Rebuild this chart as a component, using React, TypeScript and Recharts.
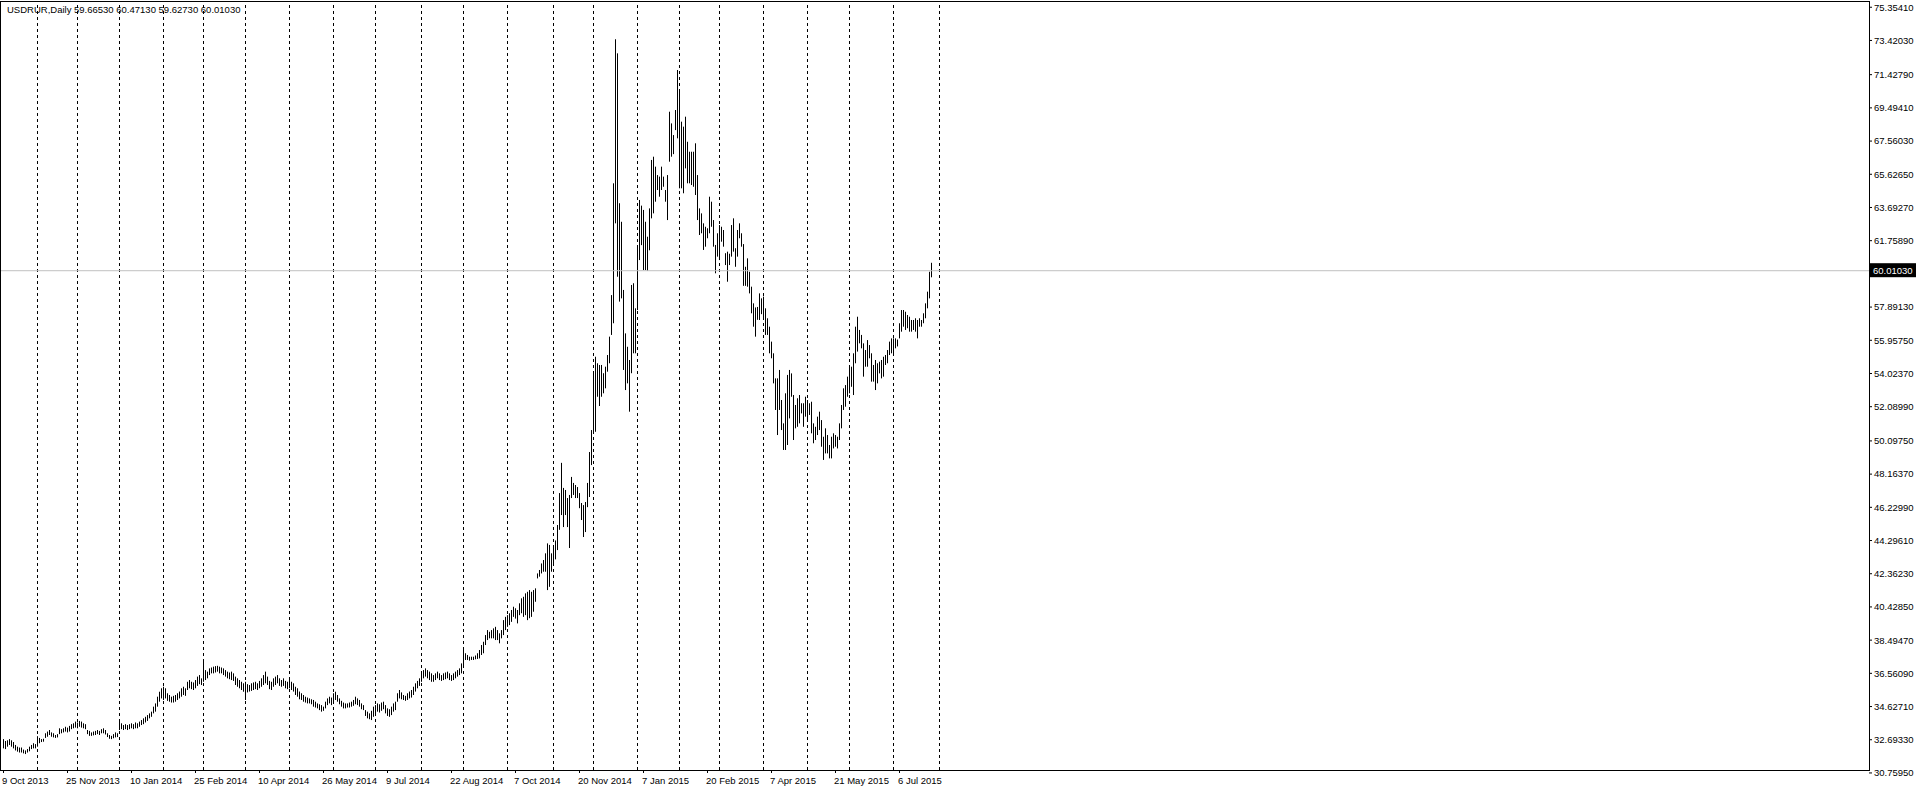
import React from 'react';
import { ComposedChart, Bar, XAxis, YAxis, ReferenceLine } from 'recharts';

// USDRUR daily, one high/low pair per bar (9 Oct 2013 .. late Jul 2015), month by month
const highs = [
  // Oct 2013
  32.73, 32.62, 32.66, 32.73, 32.66, 32.56, 32.39, 32.29, 32.24, 32.24, 32.12, 32.07, 32.15, 32.29, 32.39, 32.49, 32.44,
  // Nov 2013
  32.90, 32.80, 32.73, 32.75, 33.07, 33.17, 33.26, 33.12, 33.07, 32.97, 33.02, 33.36, 33.31, 33.36, 33.45, 33.40, 33.50, 33.60, 33.65, 33.75,
  // Dec 2013
  33.70, 33.79, 33.75, 33.65, 33.60, 33.26, 33.21, 33.12, 33.17, 33.21, 33.26, 33.21, 33.31, 33.36, 33.26, 33.07, 32.97, 32.92, 33.02, 33.12, 33.07,
  // Jan 2014
  33.84, 33.65, 33.55, 33.60, 33.55, 33.60, 33.65, 33.60, 33.70, 33.65, 33.75, 33.84, 33.94, 34.03, 34.13, 34.23, 34.33, 34.62, 34.81, 35.20, 35.49, 35.69,
  // Feb 2014
  35.78, 35.69, 35.40, 35.30, 35.20, 35.25, 35.30, 35.40, 35.50, 35.69, 35.78, 35.69, 36.07, 36.17, 36.07, 36.03, 36.17, 36.37, 36.46, 36.27,
  // Mar 2014
  37.24, 36.75, 36.66, 36.85, 36.90, 36.95, 36.98, 37.00, 36.95, 36.90, 36.85, 36.75, 36.66, 36.61, 36.66, 36.56, 36.37, 36.27, 36.17, 36.07, 35.98,
  // Apr 2014
  36.07, 35.93, 35.88, 35.98, 36.03, 36.07, 35.98, 36.12, 36.27, 36.46, 36.66, 36.37, 36.12, 36.07, 36.27, 36.37, 36.46, 36.27, 36.17, 36.27, 36.12, 36.07,
  // May 2014
  36.17, 36.07, 35.98, 35.78, 35.69, 35.50, 35.40, 35.30, 35.20, 35.15, 35.10, 35.05, 35.01, 34.91, 34.81, 34.76, 34.71, 34.62, 34.91, 35.10, 35.20, 35.15,
  // Jun 2014
  35.40, 35.49, 35.30, 35.10, 34.96, 34.86, 34.81, 34.81, 34.86, 34.91, 35.01, 35.20, 35.10, 35.01, 34.81, 34.71, 34.42, 34.33, 34.23, 34.38, 34.62,
  // Jul 2014
  34.71, 34.81, 34.76, 34.86, 34.91, 34.71, 34.52, 34.47, 34.62, 34.81, 34.91, 35.40, 35.59, 35.45, 35.30, 35.25, 35.40, 35.50, 35.59, 35.78, 35.98, 36.12, 36.27,
  // Aug 2014
  36.56, 36.75, 36.85, 36.75, 36.66, 36.56, 36.46, 36.56, 36.66, 36.56, 36.46, 36.56, 36.61, 36.66, 36.56, 36.46, 36.56, 36.66, 36.75, 36.85, 37.14,
  // Sep 2014
  37.92, 37.73, 37.63, 37.53, 37.53, 37.53, 37.60, 37.73, 37.92, 38.21, 38.40, 38.79, 39.08, 38.98, 39.08, 39.18, 39.27, 39.08, 38.89, 39.08, 39.66, 39.85,
  // Oct 2014
  39.95, 40.06, 40.25, 40.44, 40.35, 40.25, 40.64, 40.93, 41.02, 41.22, 41.31, 41.41, 41.31, 41.41, 41.51, 42.38, 42.58, 42.96, 43.16, 43.55, 44.13, 44.04, 43.55,
  // Nov 2014
  43.94, 44.30, 45.20, 47.06, 48.82, 47.36, 47.24, 46.77, 46.95, 48.00, 47.65, 47.53, 47.41, 47.06, 46.48, 46.36, 46.54, 47.65, 49.45, 50.73,
  // Dec 2014
  54.04, 55.00, 54.62, 54.52, 54.52, 54.04, 54.42, 55.10, 56.17, 58.59, 65.10, 73.49, 72.67, 63.94, 62.86, 58.89, 56.36, 55.58, 54.81, 59.18, 59.28, 57.82,
  // Jan 2015
  61.41, 64.13, 63.80, 63.55, 62.86, 61.99, 63.64, 66.46, 66.65, 66.07, 65.58, 65.49, 66.07, 65.49, 64.71, 65.58, 69.27, 68.59, 67.91, 69.37, 71.70,
  // Feb 2015
  70.44, 68.69, 68.40, 68.98, 67.52, 66.94, 66.94, 66.94, 67.43, 65.58, 63.64, 63.35, 62.77, 62.57, 62.48, 64.32, 64.03, 62.96, 61.51, 62.19,
  // Mar 2015
  62.67, 62.57, 62.38, 61.03, 61.12, 61.00, 62.67, 63.06, 61.32, 62.38, 62.77, 62.19, 61.56, 60.24, 60.73, 59.95, 59.08, 58.11, 57.87, 57.90, 58.69, 58.40,
  // Apr 2015
  58.50, 57.82, 57.24, 56.75, 55.88, 55.20, 53.74, 53.74, 54.23, 52.48, 51.12, 52.87, 53.94, 54.23, 54.03, 52.77, 52.19, 52.58, 52.77, 52.29, 52.29, 52.67,
  // May 2015
  52.48, 52.29, 52.38, 51.12, 50.92, 51.51, 51.80, 51.31, 50.34, 50.83, 50.44, 49.86, 50.34, 50.54, 50.44, 50.34, 51.12, 52.19, 53.16, 53.35, 53.84,
  // Jun 2015
  54.42, 54.42, 55.20, 56.75, 57.33, 56.56, 56.27, 55.78, 55.39, 55.97, 55.68, 55.20, 54.52, 54.81, 54.62, 54.71, 54.81, 55.00, 55.10, 55.39, 55.88, 56.07,
  // Jul 2015
  56.07, 56.07, 56.00, 56.95, 57.72, 57.72, 57.62, 57.43, 57.33, 57.14, 57.14, 57.24, 57.14, 57.24, 57.14, 57.53, 58.11, 58.79, 59.95, 60.4713,
];

const lows = [
  // Oct 2013
  32.19, 32.15, 32.29, 32.39, 32.29, 32.19, 32.07, 32.00, 31.95, 31.95, 31.90, 31.86, 31.95, 32.02, 32.15, 32.19, 32.19,
  // Nov 2013
  32.29, 32.49, 32.56, 32.58, 32.80, 32.87, 32.97, 32.87, 32.83, 32.80, 32.83, 33.02, 33.07, 33.12, 33.17, 33.12, 33.17, 33.31, 33.36, 33.40,
  // Dec 2013
  33.36, 33.45, 33.40, 33.36, 33.31, 33.02, 32.92, 32.92, 32.95, 32.97, 33.02, 32.97, 33.07, 33.07, 33.00, 32.85, 32.75, 32.73, 32.78, 32.83, 32.85,
  // Jan 2014
  33.26, 33.31, 33.26, 33.31, 33.26, 33.31, 33.36, 33.31, 33.36, 33.36, 33.45, 33.55, 33.60, 33.70, 33.79, 33.94, 34.03, 34.23, 34.33, 34.62, 34.91, 35.10,
  // Feb 2014
  35.01, 35.10, 34.96, 34.91, 34.86, 34.86, 34.91, 35.01, 35.10, 35.20, 35.30, 35.25, 35.59, 35.69, 35.64, 35.59, 35.69, 35.83, 35.93, 35.88,
  // Mar 2014
  36.07, 36.17, 36.27, 36.46, 36.56, 36.56, 36.61, 36.66, 36.56, 36.56, 36.46, 36.37, 36.27, 36.22, 36.17, 36.12, 35.88, 35.78, 35.69, 35.59, 35.49,
  // Apr 2014
  35.01, 35.45, 35.50, 35.54, 35.59, 35.64, 35.59, 35.69, 35.78, 35.88, 35.98, 35.88, 35.64, 35.59, 35.78, 35.88, 35.98, 35.83, 35.78, 35.83, 35.69, 35.64,
  // May 2014
  35.69, 35.59, 35.50, 35.30, 35.20, 35.05, 35.01, 34.91, 34.86, 34.81, 34.81, 34.76, 34.62, 34.57, 34.52, 34.42, 34.33, 34.38, 34.52, 34.71, 34.81, 34.71,
  // Jun 2014
  34.91, 35.01, 34.91, 34.76, 34.62, 34.52, 34.52, 34.57, 34.57, 34.62, 34.67, 34.76, 34.71, 34.62, 34.47, 34.42, 34.08, 33.94, 33.89, 33.84, 34.03,
  // Jul 2014
  34.23, 34.33, 34.28, 34.38, 34.47, 34.23, 34.08, 34.03, 34.13, 34.33, 34.42, 34.91, 35.10, 35.05, 35.01, 34.96, 35.01, 35.10, 35.15, 35.30, 35.50, 35.69, 35.83,
  // Aug 2014
  36.07, 36.27, 36.37, 36.27, 36.17, 36.07, 36.07, 36.17, 36.27, 36.17, 36.12, 36.17, 36.22, 36.27, 36.17, 36.12, 36.17, 36.27, 36.37, 36.46, 36.56,
  // Sep 2014
  36.95, 37.34, 37.34, 37.30, 37.34, 37.34, 37.38, 37.40, 37.43, 37.63, 37.73, 38.21, 38.50, 38.60, 38.60, 38.60, 38.50, 38.50, 38.31, 38.60, 38.79, 39.08,
  // Oct 2014
  39.27, 39.37, 39.56, 39.85, 39.75, 39.47, 39.95, 40.06, 39.85, 39.95, 39.66, 39.77, 39.85, 40.15, 40.73, 42.09, 42.19, 42.38, 42.48, 42.48, 41.41, 41.60, 42.48,
  // Nov 2014
  42.97, 43.20, 43.74, 44.92, 45.78, 45.08, 45.78, 45.08, 43.86, 46.77, 46.95, 46.77, 46.77, 46.18, 45.49, 44.50, 44.79, 46.24, 46.83, 48.69,
  // Dec 2014
  50.54, 50.63, 52.67, 52.13, 52.67, 52.87, 53.16, 54.13, 54.62, 56.27, 56.95, 62.77, 59.66, 58.21, 58.40, 54.23, 53.06, 53.45, 51.80, 54.04, 55.20, 55.20,
  // Jan 2015
  57.72, 60.63, 61.50, 60.05, 60.05, 60.00, 61.20, 63.06, 63.35, 64.03, 64.71, 64.32, 64.71, 64.90, 64.03, 62.96, 66.36, 66.65, 66.80, 68.20, 67.72,
  // Feb 2015
  64.81, 64.81, 64.52, 65.97, 65.10, 65.10, 65.00, 64.90, 64.42, 62.96, 62.09, 62.19, 61.22, 61.41, 61.90, 62.19, 62.57, 61.41, 59.86, 60.83,
  // Mar 2015
  60.63, 61.70, 61.41, 60.34, 59.37, 60.34, 60.83, 61.12, 60.24, 60.83, 61.90, 61.41, 59.13, 59.13, 59.08, 58.69, 57.53, 56.75, 56.17, 57.15, 57.14, 57.48,
  // Apr 2015
  57.24, 56.27, 56.27, 55.20, 54.91, 53.45, 51.90, 50.44, 51.90, 50.73, 49.57, 49.57, 49.86, 51.41, 52.67, 50.15, 50.83, 50.92, 51.12, 51.70, 50.92, 51.51,
  // May 2015
  51.31, 51.61, 50.54, 49.96, 50.15, 50.44, 50.73, 49.76, 48.99, 49.37, 49.37, 49.08, 49.08, 49.66, 49.76, 49.66, 50.15, 50.83, 51.90, 52.09, 52.67,
  // Jun 2015
  52.87, 53.25, 52.77, 54.62, 55.30, 55.78, 55.49, 53.84, 54.42, 54.42, 54.91, 53.55, 53.55, 53.06, 53.45, 54.03, 53.74, 53.84, 54.52, 54.62, 55.10, 55.20,
  // Jul 2015
  55.10, 55.49, 55.60, 56.07, 56.46, 56.75, 56.56, 56.66, 56.46, 56.46, 56.56, 56.46, 56.07, 56.75, 56.75, 56.95, 57.24, 57.82, 58.40, 59.6273,
];

// bar index of the first bar of each month (period separators)
const monthStarts = [17, 37, 58, 80, 100, 121, 143, 165, 186, 209, 230, 252, 275, 295, 317, 338, 358, 380, 402, 423, 445, 468];

const dateTicks = [0, 32, 64, 96, 128, 160, 192, 224, 256, 288, 320, 352, 384, 416, 448];
const dateLabels = [
  '9 Oct 2013', '25 Nov 2013', '10 Jan 2014', '25 Feb 2014', '10 Apr 2014', '26 May 2014', '9 Jul 2014', '22 Aug 2014',
  '7 Oct 2014', '20 Nov 2014', '7 Jan 2015', '20 Feb 2015', '7 Apr 2015', '21 May 2015', '6 Jul 2015',
];

const priceTicks = [
  75.3541, 73.4203, 71.4279, 69.4941, 67.5603, 65.6265, 63.6927, 61.7589, 57.8913, 55.9575, 54.0237, 52.0899,
  50.0975, 48.1637, 46.2299, 44.2961, 42.3623, 40.4285, 38.4947, 36.5609, 34.6271, 32.6933, 30.7595,
];

const lastPrice = 60.0103;
const headerText = 'USDRUR,Daily 59.66530 60.47130 59.62730 60.01030';

const data = highs.map((h, i) => ({ i, range: [lows[i], h] }));

const FONT = '"Liberation Sans", Arial, sans-serif';
const W = 1916;
const H = 789;
const PLOT_RIGHT = 1869;
const PLOT_BOTTOM = 770;

const HLBar = (props: any) => {
  const { x, y, width, height } = props;
  if (x == null || y == null) return null;
  return <rect x={Math.floor(x + width / 2)} y={y} width={1} height={Math.max(height, 1)} fill="#000" />;
};

const DateTick = (props: any) => {
  const { x, payload } = props;
  const k = dateTicks.indexOf(payload.value);
  return (
    <text x={x - 1.5} y={784} textAnchor="start" fontSize={9.5} fontFamily={FONT} fill="#000">
      {dateLabels[k]}
    </text>
  );
};

const PriceTag = (props: any) => {
  const vb = props.viewBox || {};
  const y = vb.y;
  const x = (vb.x || 0) + (vb.width || 0) + 1;
  return (
    <g>
      <rect x={x} y={y - 7.5} width={W - x} height={14} fill="#000" />
      <text x={x + 3} y={y + 3.5} fontSize={9.5} fontFamily={FONT} fill="#fff">
        {lastPrice.toFixed(5)}
      </text>
    </g>
  );
};

const line = (left: number, top: number, width: number, height: number) => (
  <div style={{ position: 'absolute', left, top, width, height, background: '#000' }} />
);

export default function App() {
  return (
    <div style={{ position: 'absolute', left: 0, top: 0, width: W, height: H, background: '#fff', overflow: 'hidden' }}>
      <ComposedChart
        width={W}
        height={H}
        data={data}
        margin={{ top: 1, right: 0, bottom: 0, left: 0 }}
      >
        <XAxis
          dataKey="i"
          type="number"
          domain={[-1.75, 932.75]}
          allowDataOverflow
          ticks={dateTicks}
          interval={0}
          height={19}
          axisLine={false}
          tickSize={3}
          tickLine={{ stroke: '#000' }}
          tick={<DateTick />}
        />
        <YAxis
          orientation="right"
          type="number"
          width={47}
          domain={[30.931, 75.718]}
          allowDataOverflow
          ticks={priceTicks}
          interval={0}
          axisLine={false}
          tickSize={3}
          tickMargin={2}
          tickLine={{ stroke: '#000' }}
          tick={{ fontSize: 9.5, fontFamily: FONT, fill: '#000' }}
          tickFormatter={(v: number) => v.toFixed(5)}
        />
        {monthStarts.map((m) => (
          <ReferenceLine key={m} x={m} stroke="#000" strokeDasharray="3 3" ifOverflow="visible" />
        ))}
        <ReferenceLine y={lastPrice} stroke="#c0c0c0" label={<PriceTag />} />
        <Bar dataKey="range" barSize={1} isAnimationActive={false} shape={<HLBar />} />
      </ComposedChart>
      {line(0, 1, PLOT_RIGHT + 1, 1)}
      {line(0, PLOT_BOTTOM, PLOT_RIGHT + 1, 1)}
      {line(PLOT_RIGHT, 1, 1, PLOT_BOTTOM)}
      {line(0, 1, 1, PLOT_BOTTOM)}
      <span
        style={{ position: 'absolute', left: 7, top: 4, fontSize: 9.5, lineHeight: '11px', fontFamily: FONT, color: '#000', whiteSpace: 'pre' }}
      >
        {headerText}
      </span>
    </div>
  );
}
